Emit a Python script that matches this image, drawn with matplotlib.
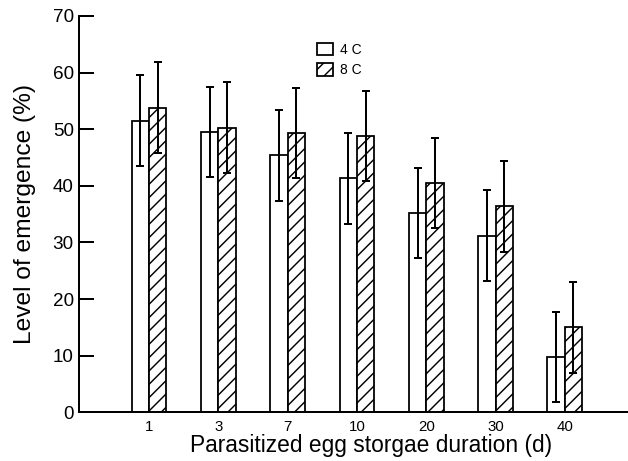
import matplotlib
matplotlib.use('Agg')
import matplotlib.pyplot as plt
import numpy as np
from matplotlib.patches import Patch

# storage durations (days) and emergence levels (%)
durations = ['1', '3', '7', '10', '20', '30', '40']
emerg_4c = [51.5, 49.5, 45.4, 41.3, 35.2, 31.2, 9.8]
emerg_8c = [53.8, 50.3, 49.3, 48.8, 40.5, 36.4, 15.0]
err_4c = [8.0, 8.0, 8.0, 8.0, 8.0, 8.0, 8.0]
err_8c = [8.0, 8.0, 8.0, 8.0, 8.0, 8.0, 8.0]

plt.rcParams['font.family'] = ['Liberation Sans', 'DejaVu Sans']
plt.rcParams['hatch.linewidth'] = 1.3

fig = plt.figure(figsize=(6.28 / 0.8, 4.61 / 0.8), dpi=80)
ax = fig.add_axes([0.1263, 0.1056, 0.8737, 0.8597])

x = np.arange(len(durations))
w = 0.25
ekw = dict(elinewidth=1.8, capthick=1.8, ecolor='black', capsize=3.6, zorder=3)
ax.bar(x - w / 2, emerg_4c, w, color='white', edgecolor='black', linewidth=1.6,
       yerr=err_4c, error_kw=ekw)
ax.bar(x + w / 2, emerg_8c, w, color='white', edgecolor='black', linewidth=1.6,
       hatch='//', yerr=err_8c, error_kw=ekw)

ax.set_xlim(-1.006, 6.912)
ax.set_ylim(0, 70)
ax.set_yticks(range(0, 71, 10))
ax.set_xticks(x)
ax.set_xticklabels(durations)

for s in ['top', 'right']:
    ax.spines[s].set_visible(False)
for s in ['left', 'bottom']:
    ax.spines[s].set_linewidth(1.8)

ax.tick_params(axis='y', direction='in', length=13.5, width=1.8, labelsize=17, pad=5)
ax.tick_params(axis='x', length=0, labelsize=13.5, pad=7)

ax.set_ylabel('Level of emergence (%)', fontsize=22, labelpad=15)
ax.set_xlabel('Parasitized egg storgae duration (d)', fontsize=20.5, labelpad=0, x=0.532)

handles = [Patch(facecolor='white', edgecolor='black', linewidth=1.6, label='4 C'),
           Patch(facecolor='white', edgecolor='black', linewidth=1.6, hatch='//', label='8 C')]
ax.legend(handles=handles, loc='upper left', bbox_to_anchor=(0.4327, 0.932), frameon=False,
          fontsize=12.5, handlelength=1.15, handleheight=1.0, handletextpad=0.5,
          borderpad=0, borderaxespad=0, labelspacing=0.45)

fig.savefig('out.png', dpi=80)
